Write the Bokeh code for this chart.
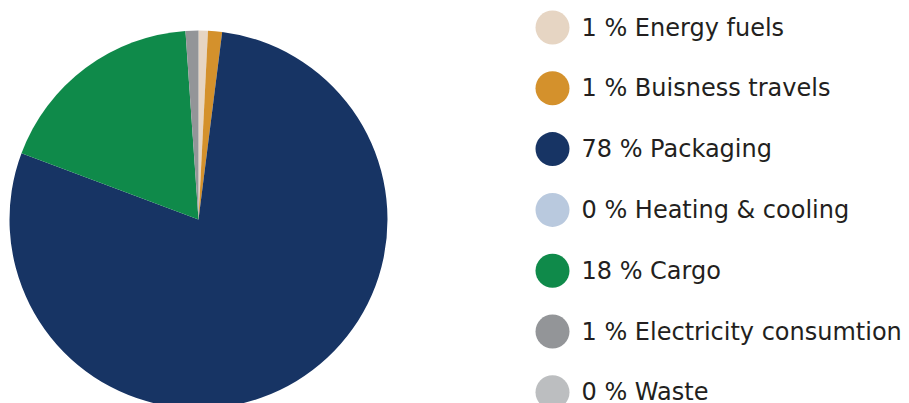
import math
from bokeh.plotting import figure
from bokeh.models import ColumnDataSource, Range1d
from bokeh.core.properties import value
from bokeh.embed import file_html
from bokeh.resources import INLINE

categories = ["Energy fuels", "Buisness travels", "Packaging", "Heating & cooling",
              "Cargo", "Electricity consumtion", "Waste"]
shares = [0.8, 1.2, 78.7, 0.0, 18.2, 1.1, 0.0]
labels_pct = ["1 %", "1 %", "78 %", "0 %", "18 %", "1 %", "0 %"]
colors = ["#e6d5c3", "#d4912c", "#173464", "#b9c9de", "#0f8a4a", "#939598", "#bcbec0"]

W, H = 909, 403
p = figure(width=W, height=H, output_backend="svg", toolbar_location=None,
           x_range=Range1d(0, W), y_range=Range1d(0, H), min_border=0)
p.axis.visible = False
p.grid.visible = False
p.outline_line_color = None
p.background_fill_color = "white"
p.border_fill_color = "white"

total = sum(shares)
starts, ends, wcolors = [], [], []
cum = 0.0
for s, c in zip(shares, colors):
    a0 = math.pi / 2 - 2 * math.pi * cum / total
    cum += s
    a1 = math.pi / 2 - 2 * math.pi * cum / total
    if s > 0:
        starts.append(a0)
        ends.append(a1)
        wcolors.append(c)

cx, cy, r = 198, H - 219, 189
src = ColumnDataSource(dict(start=starts, end=ends, color=wcolors))
p.wedge(x=cx, y=cy, radius=r, start_angle="start", end_angle="end",
        direction="clock", fill_color="color", line_color=None, source=src)

ly = [H - (27 + 60.8 * i) for i in range(len(categories))]
texts = [f"{pc} {c}" for pc, c in zip(labels_pct, categories)]
lsrc = ColumnDataSource(dict(y=ly, color=colors, text=texts))
p.scatter(x=552, y="y", size=34, fill_color="color", line_color=None, source=lsrc)
p.text(x=581, y="y", text="text", source=lsrc, text_font=value("DejaVu Sans"),
       text_font_size="24px", text_baseline="middle", text_color="#231f20")

open("out.html", "w").write(file_html(p, INLINE))
